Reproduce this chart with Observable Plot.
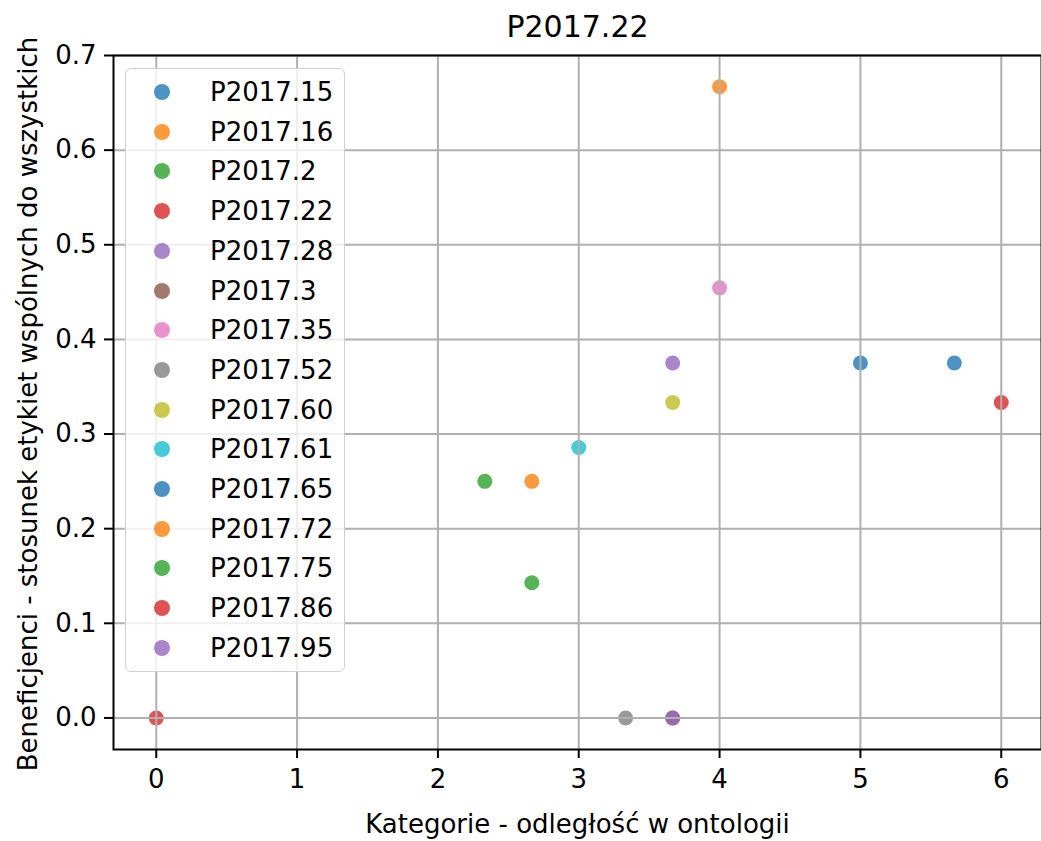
<!DOCTYPE html>
<html>
<head>
<meta charset="utf-8">
<script src="https://cdn.jsdelivr.net/npm/d3@7"></script>
<script src="https://cdn.jsdelivr.net/npm/@observablehq/plot@0.6"></script>
<style>
  html, body { margin: 0; padding: 0; background: white; }
  #wrap { position: relative; width: 1041px; height: 841px; font-family: "DejaVu Sans", sans-serif; color: black; overflow: hidden; }
  #title { position: absolute; left: 113px; width: 929px; top: 9px; text-align: center; font-size: 30px; line-height: 36px; }
  #chart { position: absolute; left: 0; top: 45px; }
  #xlabel { position: absolute; left: 113px; width: 929px; top: 808px; text-align: center; font-size: 26px; line-height: 32px; }
  #ylabel { position: absolute; left: 28px; top: 404px; width: 800px; margin-left: -400px; margin-top: -16px; text-align: center; font-size: 26px; line-height: 32px; transform: rotate(-90deg); white-space: nowrap; }
  #legend { position: absolute; left: 125px; top: 68px; width: 220px; height: 604px; box-sizing: border-box; border: 1.5px solid #d0d0d0; border-radius: 6px; background: rgba(255,255,255,0.8); }
  .li { position: absolute; left: 0; height: 40px; width: 100%; font-size: 26px; line-height: 40px; }
  .li .mk { position: absolute; left: 28px; top: 12px; width: 16px; height: 16px; border-radius: 50%; opacity: 0.8; }
  .li .tx { position: absolute; left: 84px; top: 0; }
  svg g[aria-label^="x-axis"] line, svg g[aria-label^="x-axis"] path,
  svg g[aria-label^="y-axis"] line, svg g[aria-label^="y-axis"] path { stroke-width: 2px; }
</style>
</head>
<body>
<div id="wrap">
  <div id="title"></div>
  <div id="chart"></div>
  <div id="xlabel"></div>
  <div id="ylabel"></div>
  <div id="legend"></div>
</div>
<script>
// ---- data ----
const seriesNames = ["P2017.15", "P2017.16", "P2017.2", "P2017.22", "P2017.28", "P2017.3", "P2017.35", "P2017.52", "P2017.60", "P2017.61", "P2017.65", "P2017.72", "P2017.75", "P2017.86", "P2017.95"];
const xValues = [5, 4, 2.333, 0, 3.667, 3.667, 4, 3.333, 3.667, 3, 5.667, 2.667, 2.667, 6, 3.667];
const yValues = [0.375, 0.667, 0.25, 0, 0.375, 0, 0.4545, 0, 0.3333, 0.2857, 0.375, 0.25, 0.1429, 0.3333, 0];
const palette = ["#1f77b4", "#ff7f0e", "#2ca02c", "#d62728", "#9467bd", "#8c564b", "#e377c2", "#7f7f7f", "#bcbd22", "#17becf"];
const xTicks = [0, 1, 2, 3, 4, 5, 6];
const yTicks = [0, 0.1, 0.2, 0.3, 0.4, 0.5, 0.6, 0.7];
const titleText = "P2017.22";
const xLabelText = "Kategorie - odległość w ontologii";
const yLabelText = "Beneficjenci - stosunek etykiet wspólnych do wszystkich";

const colorRange = seriesNames.map((_, i) => palette[i % palette.length]);
const data = seriesNames.map((name, i) => ({name, x: xValues[i], y: yValues[i]}));

document.getElementById("title").textContent = titleText;
document.getElementById("xlabel").textContent = xLabelText;
document.getElementById("ylabel").textContent = yLabelText;

const chart = Plot.plot({
  width: 1041,
  height: 796,
  marginTop: 10,
  marginBottom: 92,
  marginLeft: 113,
  marginRight: 0,
  style: {fontFamily: "DejaVu Sans, sans-serif", fontSize: "26px", color: "black", background: "white", overflow: "visible"},
  x: {domain: [-0.3, 6.3], range: [113.5, 1043], ticks: xTicks, tickFormat: d3.format("d"), tickSize: 9, tickPadding: 11, label: null},
  y: {domain: [-0.03335, 0.7], ticks: yTicks, tickFormat: d3.format(".1f"), tickSize: 9, tickPadding: 8, label: null},
  color: {domain: seriesNames, range: colorRange},
  marks: [
    Plot.dot(data, {x: "x", y: "y", fill: "name", r: 7.5, fillOpacity: 0.8, stroke: "none"}),
    Plot.ruleX(xTicks, {x: d => d, stroke: "#b0b0b0", strokeWidth: 2}),
    Plot.ruleY(yTicks, {y: d => d, stroke: "#b0b0b0", strokeWidth: 2}),
    Plot.frame({stroke: "black", strokeWidth: 2})
  ]
});
document.getElementById("chart").appendChild(chart);

// legend built from same arrays and the plot's color scale
const colorScale = chart.scale("color");
const legend = document.getElementById("legend");
seriesNames.forEach((name, i) => {
  const row = document.createElement("div");
  row.className = "li";
  row.style.top = (3 + i * 39.7) + "px";
  const mk = document.createElement("div");
  mk.className = "mk";
  mk.style.background = colorScale.apply(name);
  const tx = document.createElement("div");
  tx.className = "tx";
  tx.textContent = name;
  row.appendChild(mk);
  row.appendChild(tx);
  legend.appendChild(row);
});
</script>
</body>
</html>
